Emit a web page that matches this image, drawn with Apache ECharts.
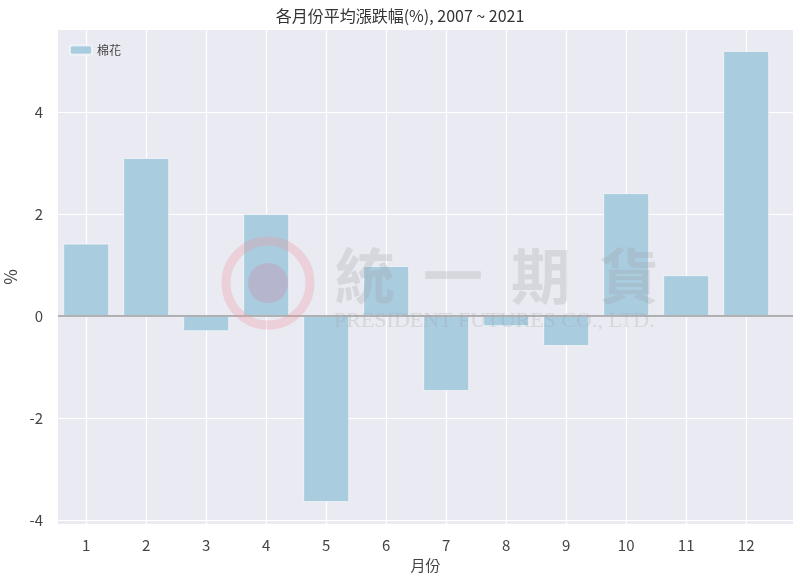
<!DOCTYPE html>
<html><head><meta charset="utf-8">
<script src="https://cdn.jsdelivr.net/npm/echarts@6/dist/echarts.min.js"></script>
<style>html,body{margin:0;padding:0;background:#fff}#c{width:800px;height:584px}</style>
</head><body><div id="c"></div>
<script>
var months = [1,2,3,4,5,6,7,8,9,10,11,12];
var monthLabels = ['1','2','3','4','5','6','7','8','9','10','11','12'];
var cotton = [1.42, 3.10, -0.30, 2.00, -3.65, 0.98, -1.47, -0.20, -0.59, 2.41, 0.80, 5.20];
var yTicks = [-4, -2, 0, 2, 4];
var seriesName = '棉花';
var titleText = '各月份平均漲跌幅(%), 2007 ~ 2021';

var font = '"Noto Sans CJK TC","Noto Sans CJK SC",sans-serif';
var wmChars = ['統','一','期','貨'];
var wmGraphics = wmChars.map(function(ch, i){
  return { type: 'text', left: 335 + i * 88, top: 246, style: { text: ch, font: 'bold 60px ' + font, fill: 'rgba(160,160,170,0.28)' }, z: 10, silent: true };
});
var chart = echarts.init(document.getElementById('c'));
chart.setOption({
  animation: false,
  backgroundColor: '#ffffff',
  title: { text: titleText, left: 'center', top: 3,
    textStyle: { fontFamily: font, fontSize: 16, fontWeight: 'normal', color: '#333' } },
  legend: { left: 64, top: 39, itemWidth: 22, itemHeight: 9, itemGap: 10,
    data: [seriesName],
    textStyle: { fontFamily: font, fontSize: 12, color: '#444' } },
  grid: { left: 58, right: 7, top: 30, bottom: 60, backgroundColor: '#EAEAF2', show: true, borderWidth: 0,
    containLabel: false, outerBoundsMode: 'none' },
  xAxis: {
    type: 'value', min: 0.53, max: 12.78,
    name: '月份', nameLocation: 'middle', nameGap: 34,
    nameTextStyle: { fontFamily: font, fontSize: 15, color: '#444' },
    axisLine: { show: false }, axisTick: { show: false },
    axisLabel: { fontFamily: font, fontSize: 15, color: '#444', margin: 14,
      customValues: months, formatter: function(v){ return monthLabels[months.indexOf(v)] || ''; } },
    splitLine: { show: false }
  },
  yAxis: {
    type: 'value', min: -4.08, max: 5.61,
    name: '%', nameLocation: 'middle', nameGap: 36,
    nameTextStyle: { fontFamily: font, fontSize: 17, color: '#444' },
    axisLine: { show: false }, axisTick: { show: false },
    axisLabel: { fontFamily: font, fontSize: 15, color: '#444', margin: 15, customValues: yTicks },
    splitLine: { show: false }
  },
  series: [
    { type: 'line', data: [], z: 1, zlevel: 0,
      markLine: { silent: true, symbol: 'none', label: { show: false }, z: 1,
        lineStyle: { color: '#ffffff', width: 1.2, type: 'solid' },
        data: months.map(function(m){ return { xAxis: m }; }).concat(yTicks.map(function(t){ return { yAxis: t }; })) } },
    { name: seriesName, type: 'bar', barWidth: 46, z: 3,
      data: months.map(function(m,i){ return [m, cotton[i]]; }),
      itemStyle: { color: '#A9CCDF', borderColor: 'rgba(255,255,255,0.6)', borderWidth: 1 },
      markLine: { silent: true, symbol: 'none', label: { show: false }, z: 5,
        lineStyle: { color: '#9a9a9a', width: 1.5, type: 'solid' },
        data: [{ yAxis: 0 }] }
    }
  ],
  graphic: [
    { type: 'circle', shape: { cx: 268, cy: 283, r: 42 }, style: { fill: 'none', stroke: 'rgba(240,150,160,0.3)', lineWidth: 9 }, z: 10, silent: true },
    { type: 'circle', shape: { cx: 268, cy: 283, r: 20 }, style: { fill: 'rgba(200,150,180,0.4)' }, z: 10, silent: true },
    { type: 'text', left: 334, top: 310, style: { text: 'PRESIDENT FUTURES CO., LTD.', font: '22px "Liberation Serif",serif', fill: 'rgba(160,160,170,0.28)' }, z: 10, silent: true }
  ].concat(wmGraphics)
});
</script></body></html>
